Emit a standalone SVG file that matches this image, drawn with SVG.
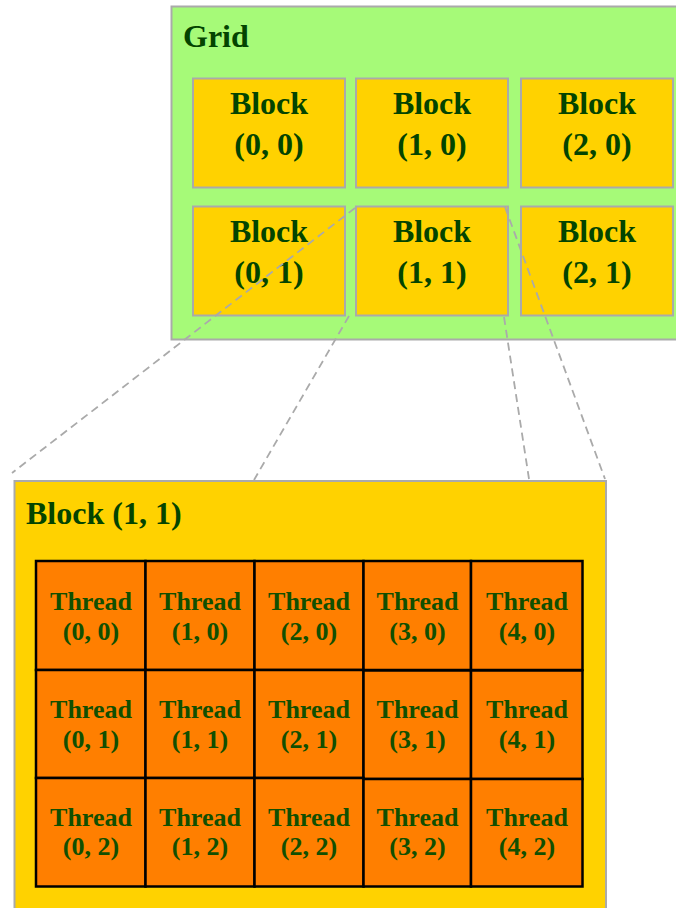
<svg xmlns="http://www.w3.org/2000/svg" width="676" height="908" viewBox="0 0 676 908">
  <style>
    .frame { stroke: #aaaaaa; stroke-width: 2; }
    .grid { fill: #a6fa78; }
    .block { fill: #ffd200; }
    .thread { fill: #ff7f00; stroke: #000000; stroke-width: 2.5; }
    .lbl { font-family: "Liberation Serif", "Times New Roman", serif; font-weight: bold; fill: #034400; }
    .big { font-size: 32px; }
    .mid { font-size: 32px; text-anchor: middle; }
    .small { font-size: 26px; text-anchor: middle; fill: #114f00; }
    .link { fill: none; stroke: #aaaaaa; stroke-width: 1.8; stroke-dasharray: 8 5; }
  </style>

  <!-- Grid container and its six blocks -->
  <g id="grid">
    <rect class="frame grid" x="171.5" y="6.5" width="540" height="333"/>
    <text class="lbl big" x="183" y="47">Grid</text>
  </g>
  <g id="block-0-0">
    <rect class="frame block" x="193" y="78.5" width="152" height="109"/>
    <text class="lbl mid" x="269" y="114">Block</text>
    <text class="lbl mid" x="269" y="155">(0, 0)</text>
  </g>
  <g id="block-1-0">
    <rect class="frame block" x="356" y="78.5" width="152" height="109"/>
    <text class="lbl mid" x="432" y="114">Block</text>
    <text class="lbl mid" x="432" y="155">(1, 0)</text>
  </g>
  <g id="block-2-0">
    <rect class="frame block" x="521" y="78.5" width="152" height="109"/>
    <text class="lbl mid" x="597" y="114">Block</text>
    <text class="lbl mid" x="597" y="155">(2, 0)</text>
  </g>
  <g id="block-0-1">
    <rect class="frame block" x="193" y="206.5" width="152" height="109"/>
    <text class="lbl mid" x="269" y="242">Block</text>
    <text class="lbl mid" x="269" y="283">(0, 1)</text>
  </g>
  <g id="block-1-1">
    <rect class="frame block" x="356" y="206.5" width="152" height="109"/>
    <text class="lbl mid" x="432" y="242">Block</text>
    <text class="lbl mid" x="432" y="283">(1, 1)</text>
  </g>
  <g id="block-2-1">
    <rect class="frame block" x="521" y="206.5" width="152" height="109"/>
    <text class="lbl mid" x="597" y="242">Block</text>
    <text class="lbl mid" x="597" y="283">(2, 1)</text>
  </g>

  <!-- Dashed projection lines from Block (1, 1) to its expanded view -->
  <g id="connectors">
    <line class="link" x1="355" y1="208" x2="12" y2="473"/>
    <line class="link" x1="349" y1="316" x2="254" y2="480"/>
    <line class="link" x1="504" y1="317" x2="529" y2="479"/>
    <line class="link" x1="505" y1="207" x2="605" y2="479"/>
  </g>

  <!-- Expanded Block (1, 1) with its 5 x 3 threads -->
  <g id="block-detail">
    <rect class="frame block" x="14.5" y="481" width="591.5" height="440"/>
    <text class="lbl big" x="26" y="524">Block (1, 1)</text>
  </g>

  <g id="thread-0-0"><rect class="thread" x="36" y="561" width="109.5" height="109"/>
    <text class="lbl small" x="91" y="610">Thread</text><text class="lbl small" x="91" y="640">(0, 0)</text></g>
  <g id="thread-1-0"><rect class="thread" x="145.5" y="561" width="109" height="109"/>
    <text class="lbl small" x="200" y="610">Thread</text><text class="lbl small" x="200" y="640">(1, 0)</text></g>
  <g id="thread-2-0"><rect class="thread" x="254.5" y="561" width="109" height="109"/>
    <text class="lbl small" x="309" y="610">Thread</text><text class="lbl small" x="309" y="640">(2, 0)</text></g>
  <g id="thread-3-0"><rect class="thread" x="363.5" y="561" width="107.5" height="109"/>
    <text class="lbl small" x="417.5" y="610">Thread</text><text class="lbl small" x="417.5" y="640">(3, 0)</text></g>
  <g id="thread-4-0"><rect class="thread" x="471" y="561" width="111.5" height="109"/>
    <text class="lbl small" x="527" y="610">Thread</text><text class="lbl small" x="527" y="640">(4, 0)</text></g>

  <g id="thread-0-1"><rect class="thread" x="36" y="670" width="109.5" height="108"/>
    <text class="lbl small" x="91" y="718">Thread</text><text class="lbl small" x="91" y="748">(0, 1)</text></g>
  <g id="thread-1-1"><rect class="thread" x="145.5" y="670" width="109" height="108"/>
    <text class="lbl small" x="200" y="718">Thread</text><text class="lbl small" x="200" y="748">(1, 1)</text></g>
  <g id="thread-2-1"><rect class="thread" x="254.5" y="670" width="109" height="108"/>
    <text class="lbl small" x="309" y="718">Thread</text><text class="lbl small" x="309" y="748">(2, 1)</text></g>
  <g id="thread-3-1"><rect class="thread" x="363.5" y="670.5" width="107.5" height="108.5"/>
    <text class="lbl small" x="417.5" y="718">Thread</text><text class="lbl small" x="417.5" y="748">(3, 1)</text></g>
  <g id="thread-4-1"><rect class="thread" x="471" y="670.5" width="111.5" height="108.5"/>
    <text class="lbl small" x="527" y="718">Thread</text><text class="lbl small" x="527" y="748">(4, 1)</text></g>

  <g id="thread-0-2"><rect class="thread" x="36" y="778" width="109.5" height="108.5"/>
    <text class="lbl small" x="91" y="826">Thread</text><text class="lbl small" x="91" y="855">(0, 2)</text></g>
  <g id="thread-1-2"><rect class="thread" x="145.5" y="778" width="109" height="108.5"/>
    <text class="lbl small" x="200" y="826">Thread</text><text class="lbl small" x="200" y="855">(1, 2)</text></g>
  <g id="thread-2-2"><rect class="thread" x="254.5" y="778" width="109" height="108.5"/>
    <text class="lbl small" x="309" y="826">Thread</text><text class="lbl small" x="309" y="855">(2, 2)</text></g>
  <g id="thread-3-2"><rect class="thread" x="363.5" y="779" width="107.5" height="107.5"/>
    <text class="lbl small" x="417.5" y="826">Thread</text><text class="lbl small" x="417.5" y="855">(3, 2)</text></g>
  <g id="thread-4-2"><rect class="thread" x="471" y="779" width="111.5" height="107.5"/>
    <text class="lbl small" x="527" y="826">Thread</text><text class="lbl small" x="527" y="855">(4, 2)</text></g>
</svg>
